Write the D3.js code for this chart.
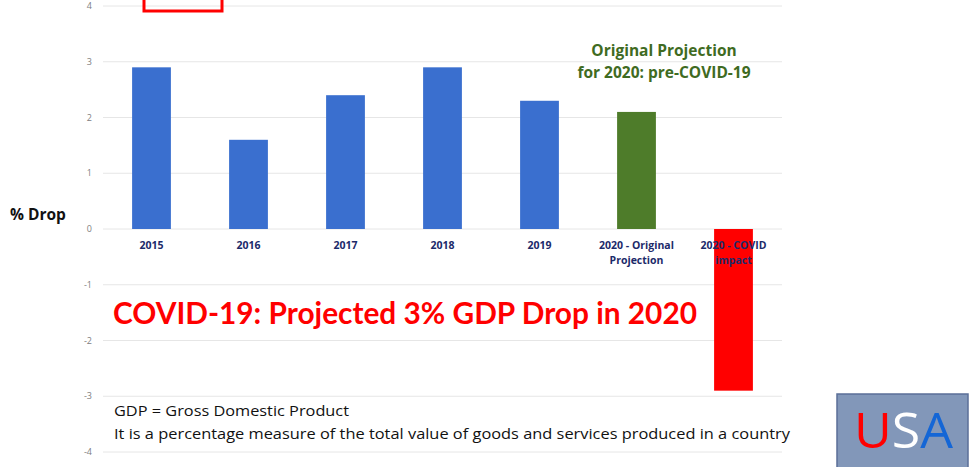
<!DOCTYPE html>
<html><head><meta charset="utf-8">
<script src="https://cdn.jsdelivr.net/npm/d3@7"></script>
<style>body{margin:0;background:#fff}svg{display:block}</style>
</head><body>
<svg id="c" width="972" height="467"></svg>
<script>
const categories = ["2015","2016","2017","2018","2019","2020 - Original|Projection","2020 - COVID|impact"];
const values = [2.9, 1.6, 2.4, 2.9, 2.3, 2.1, -2.9];
const barColors = ["#3a6fcf","#3a6fcf","#3a6fcf","#3a6fcf","#3a6fcf","#4e7c2a","#ff0000"];
const yTicks = [-4,-3,-2,-1,0,1,2,3,4];

const svg = d3.select("#c");
const x = d3.scaleBand().domain(categories).range([103, 782]).paddingInner(0.6).paddingOuter(0.3);
const y = d3.scaleLinear().domain([-4, 4]).range([452, 6]);

// gridlines
svg.append("g").selectAll("line").data(yTicks).join("line")
  .attr("x1", 103).attr("x2", 782)
  .attr("y1", d => y(d)).attr("y2", d => y(d))
  .attr("stroke", "#e6e6e6").attr("stroke-width", 1);

// y tick labels
svg.append("g").selectAll("text").data(yTicks).join("text")
  .attr("x", 92).attr("y", d => y(d)).attr("dy", "0.35em")
  .attr("text-anchor", "end")
  .attr("font-family", "Open Sans, sans-serif").attr("font-size", 9)
  .attr("fill", "#808080").text(d => d);

// bars
svg.append("g").selectAll("rect").data(categories).join("rect")
  .attr("x", d => x(d)).attr("width", x.bandwidth())
  .attr("y", (d,i) => y(Math.max(0, values[i])))
  .attr("height", (d,i) => Math.abs(y(values[i]) - y(0)))
  .attr("fill", (d,i) => barColors[i]);

// x labels
const xl = svg.append("g").selectAll("text").data(categories).join("text")
  .attr("x", d => x(d) + x.bandwidth()/2).attr("y", 249)
  .attr("text-anchor", "middle")
  .attr("font-family", "Open Sans, sans-serif").attr("font-weight", "bold")
  .attr("font-size", 10.5).attr("fill", "#1c2a6a");
xl.each(function(d){
  const parts = d.split("|");
  d3.select(this).selectAll("tspan").data(parts).join("tspan")
    .attr("x", x(d) + x.bandwidth()/2).attr("dy", (p,i) => i ? 15 : 0).text(p => p);
});

// axis title
svg.append("text").attr("x", 10).attr("y", 220)
  .attr("font-family", "Open Sans, sans-serif").attr("font-weight", "bold")
  .attr("font-size", 15.5).attr("fill", "#111").text("% Drop");

// red box at top
svg.append("rect").attr("x", 144).attr("y", -20).attr("width", 78).attr("height", 31)
  .attr("fill", "none").attr("stroke", "#ff0000").attr("stroke-width", 3);

// green annotation
const g = svg.append("text").attr("text-anchor", "middle")
  .attr("font-family", "Open Sans, sans-serif").attr("font-weight", "bold")
  .attr("font-size", 15.5).attr("fill", "#3f6b22");
g.append("tspan").attr("x", 664).attr("y", 56).text("Original Projection");
g.append("tspan").attr("x", 664).attr("y", 78).text("for 2020: pre-COVID-19");

// big red headline
svg.append("text").attr("x", 113).attr("y", 324)
  .attr("font-family", "Lato, sans-serif").attr("font-weight", "bold")
  .attr("font-size", 30).attr("fill", "#ff0000")
  .attr("textLength", 584).attr("lengthAdjust", "spacingAndGlyphs")
  .text("COVID-19: Projected 3% GDP Drop in 2020");

// footnote
const f = svg.append("text").attr("font-family", "Open Sans, sans-serif")
  .attr("font-size", 15).attr("fill", "#111");
f.append("tspan").attr("x", 114).attr("y", 416).attr("textLength", 235).attr("lengthAdjust","spacingAndGlyphs")
  .text("GDP = Gross Domestic Product");
f.append("tspan").attr("x", 114).attr("y", 439).attr("textLength", 676).attr("lengthAdjust","spacingAndGlyphs")
  .text("It is a percentage measure of the total value of goods and services produced in a country");

// USA badge
svg.append("rect").attr("x", 837).attr("y", 394).attr("width", 131).attr("height", 80)
  .attr("fill", "#8297b9").attr("stroke", "#5b6f98").attr("stroke-width", 1.5);
const u = svg.append("text").attr("x", 903.5).attr("y", 448).attr("text-anchor", "middle")
  .attr("font-family", "Open Sans, sans-serif").attr("font-size", 50)
  .attr("textLength", 99).attr("lengthAdjust", "spacingAndGlyphs");
u.append("tspan").attr("fill", "#ff0000").text("U");
u.append("tspan").attr("fill", "#ffffff").text("S");
u.append("tspan").attr("fill", "#1466d6").text("A");
</script>
</body></html>
